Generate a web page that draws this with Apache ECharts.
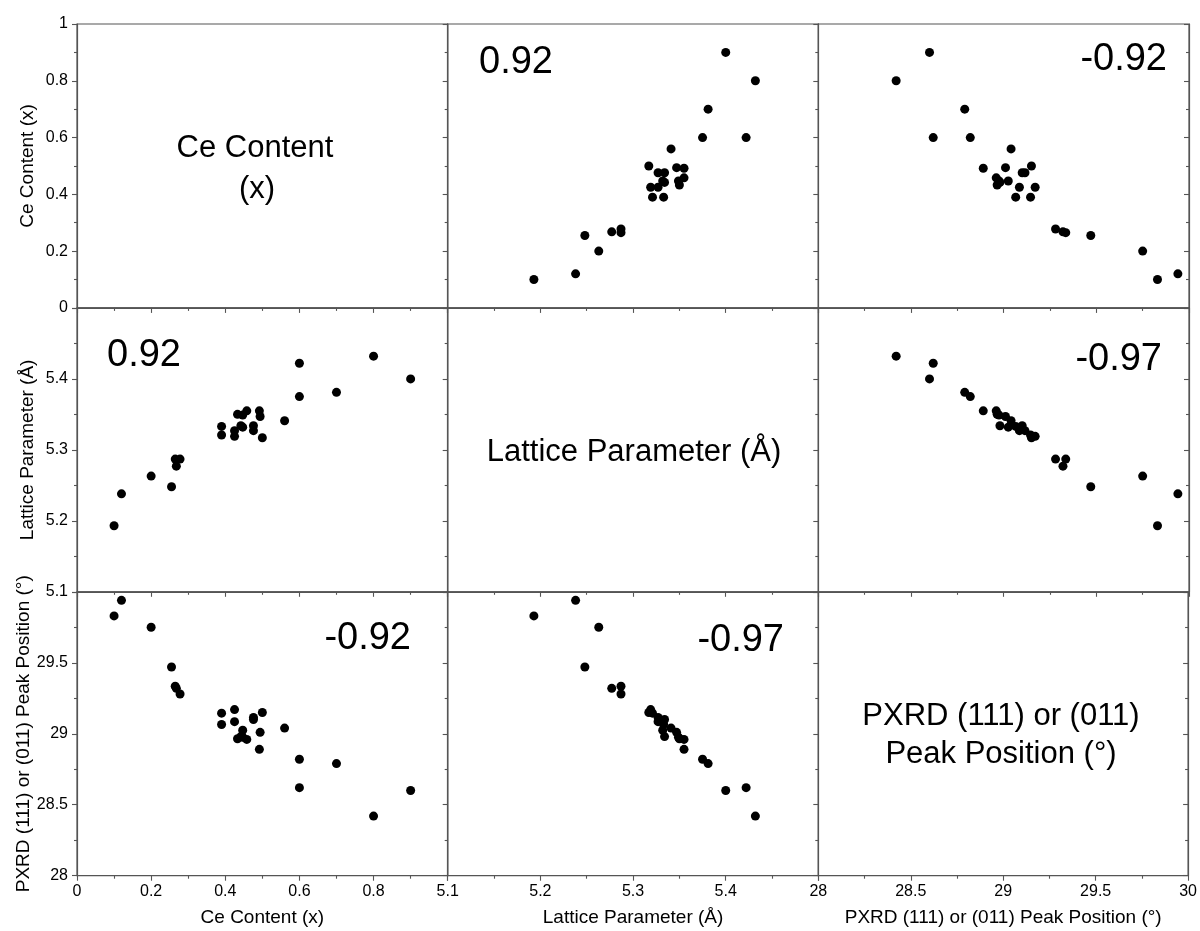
<!DOCTYPE html>
<html>
<head>
<meta charset="utf-8">
<title>Ce content / lattice parameter / PXRD peak position</title>
<script src="https://cdn.jsdelivr.net/npm/echarts@6/dist/echarts.min.js"></script>
<style>
  html, body { margin: 0; padding: 0; background: #fff; }
  #chart { width: 1200px; height: 931px; }
</style>
</head>
<body>
<div id="chart"></div>
<script>
// Sample measurements (one entry per sample, same order in every array)
const ceContent = [0.10, 0.12, 0.20, 0.255, 0.265, 0.268, 0.278, 0.39, 0.39, 0.425, 0.425,
  0.433, 0.447, 0.458, 0.442, 0.447, 0.476, 0.476, 0.492, 0.494, 0.50, 0.56,
  0.60, 0.60, 0.70, 0.80, 0.90];
const latticeParam = [5.193, 5.238, 5.263, 5.248, 5.287, 5.277, 5.287, 5.321, 5.333, 5.319, 5.327,
  5.350, 5.349, 5.355, 5.334, 5.332, 5.327, 5.334, 5.355, 5.347, 5.317, 5.341,
  5.422, 5.375, 5.381, 5.432, 5.400];
const peakPos = [29.83, 29.94, 29.75, 29.47, 29.335, 29.32, 29.28, 29.145, 29.065, 29.17, 29.085,
  28.965, 28.975, 28.96, 28.98, 29.025, 29.115, 29.10, 28.89, 29.01, 29.15, 29.04,
  28.62, 28.82, 28.79, 28.42, 28.60];

// Variable names (diagonal / axis titles) and axis scales
const axisNames = ['Ce Content (x)', 'Lattice Parameter (Å)', 'PXRD (111) or (011) Peak Position (°)'];
const axisMin = [0, 5.1, 28];
const axisMax = [1, 5.5, 30];
const axisInterval = [0.2, 0.1, 0.5];

// Pearson correlation labels for the off-diagonal panels, [row][col]
const corrLabels = [
  [null, '0.92', '-0.92'],
  ['0.92', null, '-0.97'],
  ['-0.92', '-0.97', null]
];

const variables = [ceContent, latticeParam, peakPos];

const FONT = '"Liberation Sans", Arial, Helvetica, sans-serif';
const FRAME = '#555';
const FRAME_W = 1.2;
const gridLeft = [77, 447.7, 818.3];
const gridTop = [24, 307.9, 591.8];
const gridW = 370.7;
const gridH = 283.9;

const grids = [], xAxes = [], yAxes = [], series = [];

for (let r = 0; r < 3; r++) {
  for (let c = 0; c < 3; c++) {
    const i = r * 3 + c;
    grids.push({
      left: gridLeft[c], top: gridTop[r], width: gridW, height: gridH,
      show: true, borderColor: FRAME, borderWidth: FRAME_W, backgroundColor: 'transparent',
      containLabel: false
    });
    xAxes.push({
      gridIndex: i, type: 'value', position: 'bottom',
      min: axisMin[c], max: axisMax[c], interval: axisInterval[c],
      axisLine: { show: true, lineStyle: { color: FRAME, width: FRAME_W } },
      axisTick: { show: true, inside: false, length: 5, lineStyle: { color: FRAME, width: 1.1 } },
      minorTick: { show: true, splitNumber: 2, length: 3, lineStyle: { color: FRAME, width: 1.1 } },
      splitLine: { show: false },
      axisLabel: {
        show: r === 2, margin: 8, fontSize: 16, fontFamily: FONT, color: '#000',
        showMinLabel: true, showMaxLabel: c === 2
      },
      name: r === 2 ? axisNames[c] : '',
      nameLocation: 'middle', nameGap: 33,
      nameTextStyle: { fontSize: 19, fontFamily: FONT, color: '#000' }
    });
    yAxes.push({
      gridIndex: i, type: 'value', position: 'left',
      min: axisMin[r], max: axisMax[r], interval: axisInterval[r],
      axisLine: { show: true, lineStyle: { color: FRAME, width: FRAME_W } },
      axisTick: { show: true, inside: false, length: 5, lineStyle: { color: FRAME, width: 1.1 } },
      minorTick: { show: true, splitNumber: 2, length: 3, lineStyle: { color: FRAME, width: 1.1 } },
      splitLine: { show: false },
      axisLabel: {
        show: c === 0, margin: 9, fontSize: 16, fontFamily: FONT, color: '#000',
        showMinLabel: true, showMaxLabel: r === 0
      },
      name: c === 0 ? axisNames[r] : '',
      nameLocation: 'middle', nameGap: 40, nameRotate: 90,
      nameTextStyle: { fontSize: 19, fontFamily: FONT, color: '#000' }
    });
    if (r !== c) {
      series.push({
        type: 'scatter',
        xAxisIndex: i, yAxisIndex: i,
        symbol: 'circle', symbolSize: 9,
        itemStyle: { color: '#000', opacity: 1 },
        silent: true,
        data: variables[c].map((v, k) => [v, variables[r][k]])
      });
    }
  }
}

// Mirror ticks along the right edge of the last column
for (let r = 0; r < 3; r++) {
  const i = r * 3 + 2;
  yAxes.push({
    gridIndex: i, type: 'value', position: 'right',
    min: axisMin[r], max: axisMax[r], interval: axisInterval[r],
    axisLine: { show: true, lineStyle: { color: FRAME, width: FRAME_W } },
    axisTick: { show: true, inside: true, length: 5, lineStyle: { color: FRAME, width: 1.1 } },
    minorTick: { show: true, splitNumber: 2, length: 3, lineStyle: { color: FRAME, width: 1.1 } },
    splitLine: { show: false },
    axisLabel: { show: false }
  });
}

// Text annotations: diagonal variable names and correlation coefficients
const textEl = (text, x, y, size, align) => ({
  type: 'text', x: x, y: y, silent: true,
  style: {
    text: text, fill: '#000', font: size + 'px ' + FONT,
    textAlign: align, textVerticalAlign: 'middle',
    align: align, verticalAlign: 'middle'
  }
});

const corrPos = [
  [null, [479, 62.5, 'left'], [1167, 60, 'right']],
  [[107, 355.5, 'left'], null, [1162, 359.5, 'right']],
  [[411, 638.5, 'right'], [784, 641, 'right'], null]
];

const graphics = [
  textEl('Ce Content', 255, 148.5, 31, 'center'),
  textEl('(x)', 257, 189, 31, 'center'),
  textEl('Lattice Parameter (Å)', 634, 452, 31, 'center'),
  textEl('PXRD (111) or (011)', 1001, 716.5, 31, 'center'),
  textEl('Peak Position (°)', 1001, 754, 31, 'center')
];
for (let r = 0; r < 3; r++) {
  for (let c = 0; c < 3; c++) {
    const p = corrPos[r][c];
    if (p && corrLabels[r][c]) graphics.push(textEl(corrLabels[r][c], p[0], p[1], 38, p[2]));
  }
}

const chart = echarts.init(document.getElementById('chart'), null, { renderer: 'canvas' });
chart.setOption({
  animation: false,
  backgroundColor: '#fff',
  textStyle: { fontFamily: FONT },
  grid: grids,
  xAxis: xAxes,
  yAxis: yAxes,
  series: series,
  graphic: graphics
});
</script>
</body>
</html>
